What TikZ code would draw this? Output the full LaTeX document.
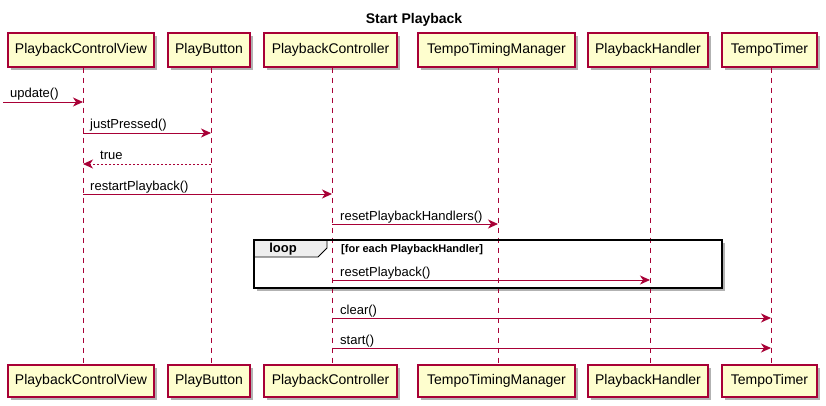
\documentclass[tikz,border=0pt]{standalone}
\usepackage{fontspec}
\setmainfont{Liberation Sans}
\usetikzlibrary{arrows.meta,shadows}
\definecolor{umlred}{HTML}{A80036}
\definecolor{umlfill}{HTML}{FEFECE}
\definecolor{tabfill}{HTML}{EEEEEE}
\begin{document}
\begin{tikzpicture}[x=1pt,y=-1pt,
 part/.style={draw=umlred, line width=1.2pt, fill=umlfill, inner sep=0pt,
   font=\fontsize{14}{16}\selectfont,
   drop shadow={shadow xshift=3pt,shadow yshift=-3pt,opacity=0.3,fill=black}},
 toppart/.style={part, minimum height=34pt},
 botpart/.style={part, minimum height=32pt},
 life/.style={draw=umlred, dash pattern=on 5pt off 5pt, line width=0.8pt},
 msg/.style={draw=umlred, line width=0.9pt, -{Stealth[length=10pt,width=9pt,inset=3pt]}},
 ret/.style={msg, dash pattern=on 2pt off 2pt},
 lbl/.style={anchor=base west, inner sep=0pt, font=\fontsize{13}{15}\selectfont, text=black},
 frame/.style={line width=1.5pt, draw=black},
]
\useasboundingbox (0,0) rectangle (826,406);

% title
\node[font=\bfseries\fontsize{14}{16}\selectfont] (title) at (414,20) {Start Playback};

% lifeline x positions
\coordinate (l1) at (83,0);
\coordinate (l2) at (211,0);
\coordinate (l3) at (332,0);
\coordinate (l4) at (498,0);
\coordinate (l5) at (650,0);
\coordinate (l6) at (771,0);

% loop fragment background (under the lifelines)
\fill[white, drop shadow={shadow xshift=3pt,shadow yshift=-3pt,opacity=0.3,fill=black}]
  (254,240) rectangle (722,288);

% participants
\node[toppart, minimum width=146pt] (t1) at (81,50) {PlaybackControlView};
\node[toppart, minimum width=82pt]  (t2) at (209,50) {PlayButton};
\node[toppart, minimum width=133pt] (t3) at (330.5,50) {PlaybackController};
\node[toppart, minimum width=157pt] (t4) at (496.5,50) {TempoTimingManager};
\node[toppart, minimum width=120pt] (t5) at (648,50) {PlaybackHandler};
\node[toppart, minimum width=95pt]  (t6) at (769.5,50) {TempoTimer};

\node[botpart, minimum width=146pt] (b1) at (81,381) {PlaybackControlView};
\node[botpart, minimum width=82pt]  (b2) at (209,381) {PlayButton};
\node[botpart, minimum width=133pt] (b3) at (330.5,381) {PlaybackController};
\node[botpart, minimum width=157pt] (b4) at (496.5,381) {TempoTimingManager};
\node[botpart, minimum width=120pt] (b5) at (648,381) {PlaybackHandler};
\node[botpart, minimum width=95pt]  (b6) at (769.5,381) {TempoTimer};

% lifelines
\foreach \i in {1,...,6}{
  \draw[life] (t\i.south -| l\i) -- (b\i.north -| l\i);
}

% loop fragment frame and tab
\draw[line width=0.8pt, draw=black, fill=tabfill]
  (254,240) -- (327,240) -- (327,248) -- (318,257) -- (254,257) -- cycle;
\draw[frame] (254,240) rectangle (722,288);
\node[font=\bfseries\fontsize{13}{15}\selectfont] (looplbl) at (283,249.5) {loop};
\node[anchor=west, inner sep=0pt, font=\bfseries\fontsize{11}{13}\selectfont] (loopcond) at (341,249.5) {[for each PlaybackHandler]};

% messages
\coordinate (s0) at (3,102);
\draw[msg] (s0) -- (l1 |- s0);
\node[lbl] (m0) at (10,98) {update()};

\coordinate (y1) at (0,133);
\draw[msg] (l1 |- y1) -- (l2 |- y1);
\node[lbl] (m1) at (90,129) {justPressed()};

\coordinate (y2) at (0,164);
\draw[ret] (l2 |- y2) -- (l1 |- y2);
\node[lbl] (m2) at (100,160) {true};

\coordinate (y3) at (0,194);
\draw[msg] (l1 |- y3) -- (l3 |- y3);
\node[lbl] (m3) at (90,190) {restartPlayback()};

\coordinate (y4) at (0,224);
\draw[msg] (l3 |- y4) -- (l4 |- y4);
\node[lbl] (m4) at (340,220) {resetPlaybackHandlers()};

\coordinate (y5) at (0,280);
\draw[msg] (l3 |- y5) -- (l5 |- y5);
\node[lbl] (m5) at (340,276) {resetPlayback()};

\coordinate (y6) at (0,318);
\draw[msg] (l3 |- y6) -- (l6 |- y6);
\node[lbl] (m6) at (340,314) {clear()};

\coordinate (y7) at (0,348);
\draw[msg] (l3 |- y7) -- (l6 |- y7);
\node[lbl] (m7) at (340,344) {start()};
\end{tikzpicture}
\end{document}
